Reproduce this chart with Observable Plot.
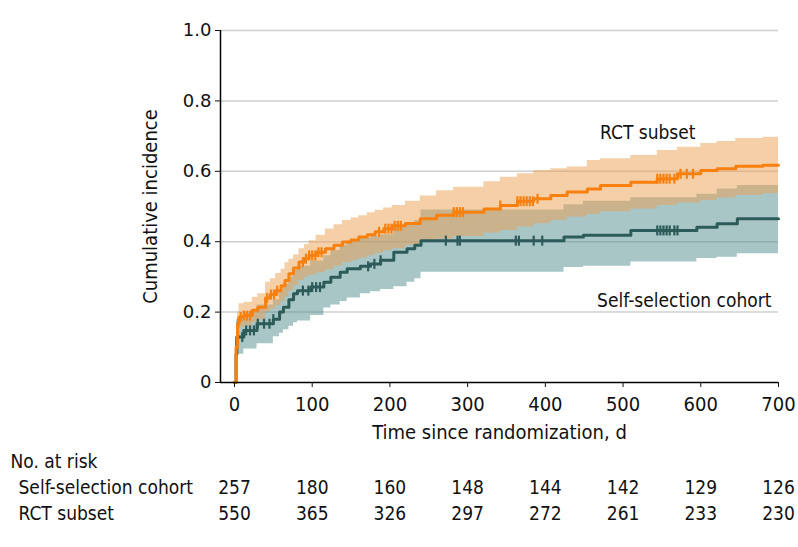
<!DOCTYPE html>
<html><head><meta charset="utf-8">
<script src="https://cdn.jsdelivr.net/npm/d3@7"></script>
<script src="https://cdn.jsdelivr.net/npm/@observablehq/plot@0.6"></script>
<style>
body{margin:0;background:#fff;}
#chart svg{display:block;}
</style></head><body><div id="chart"></div>
<script>
// ---- data ----
const rctTime  = [0, 2, 4, 6, 12, 23, 30, 40, 46, 53, 60, 65, 70, 76, 83, 90, 96, 105, 117, 128, 139, 150, 160, 171, 181, 192, 203, 220, 239, 260, 282, 321, 342, 364, 385, 407, 428, 454, 471, 510, 544, 570, 600, 621, 645, 680, 700];
const rctEst   = [0, 0.10, 0.17, 0.186, 0.19, 0.205, 0.214, 0.24, 0.25, 0.261, 0.275, 0.29, 0.309, 0.325, 0.342, 0.352, 0.361, 0.37, 0.38, 0.39, 0.399, 0.405, 0.413, 0.42, 0.428, 0.437, 0.445, 0.452, 0.465, 0.475, 0.484, 0.493, 0.503, 0.515, 0.522, 0.531, 0.541, 0.55, 0.56, 0.569, 0.579, 0.593, 0.602, 0.607, 0.614, 0.617, 0.617];
const rctLower = [0, 0.07, 0.13, 0.155, 0.16, 0.17, 0.178, 0.2, 0.208, 0.218, 0.23, 0.243, 0.26, 0.275, 0.29, 0.298, 0.305, 0.312, 0.32, 0.33, 0.34, 0.346, 0.353, 0.36, 0.367, 0.374, 0.38, 0.39, 0.4, 0.407, 0.415, 0.425, 0.432, 0.442, 0.451, 0.46, 0.47, 0.477, 0.485, 0.493, 0.503, 0.51, 0.517, 0.524, 0.531, 0.536, 0.536];
const rctUpper = [0, 0.13, 0.2, 0.224, 0.228, 0.242, 0.252, 0.285, 0.295, 0.31, 0.322, 0.34, 0.35, 0.362, 0.38, 0.392, 0.403, 0.418, 0.436, 0.448, 0.46, 0.467, 0.474, 0.482, 0.489, 0.496, 0.503, 0.515, 0.53, 0.545, 0.555, 0.57, 0.583, 0.593, 0.602, 0.607, 0.612, 0.631, 0.636, 0.645, 0.659, 0.668, 0.679, 0.685, 0.693, 0.697, 0.697];
const rctCensor = [5, 8, 12, 16, 20, 42, 47, 51, 55, 88, 92, 96, 100, 104, 108, 112, 186, 194, 198, 202, 206, 210, 214, 282, 286, 290, 294, 342, 364, 368, 372, 376, 380, 384, 390, 544, 548, 552, 556, 560, 566, 574, 582, 590];

const selfTime  = [0, 2, 3, 12, 29, 50, 58, 63, 70, 76, 81, 98, 115, 124, 136, 145, 162, 175, 188, 205, 222, 232, 240, 424, 449, 510, 595, 621, 647, 700];
const selfEst   = [0, 0.08, 0.129, 0.148, 0.167, 0.18, 0.2, 0.214, 0.235, 0.252, 0.261, 0.271, 0.285, 0.299, 0.313, 0.323, 0.33, 0.337, 0.347, 0.37, 0.38, 0.39, 0.403, 0.413, 0.418, 0.432, 0.441, 0.451, 0.465, 0.465];
const selfLower = [0, 0.05, 0.08, 0.095, 0.11, 0.13, 0.14, 0.15, 0.16, 0.17, 0.175, 0.19, 0.212, 0.22, 0.23, 0.24, 0.252, 0.258, 0.264, 0.272, 0.285, 0.295, 0.313, 0.327, 0.33, 0.342, 0.352, 0.356, 0.366, 0.366];
const selfUpper = [0, 0.12, 0.18, 0.2, 0.22, 0.235, 0.26, 0.28, 0.3, 0.318, 0.33, 0.345, 0.36, 0.375, 0.39, 0.4, 0.41, 0.415, 0.42, 0.44, 0.45, 0.46, 0.49, 0.505, 0.515, 0.525, 0.535, 0.55, 0.56, 0.56];
const selfCensor = [10, 15, 20, 25, 30, 38, 45, 50, 88, 95, 100, 105, 110, 172, 180, 188, 272, 287, 290, 362, 366, 385, 396, 544, 548, 552, 556, 560, 566, 570];

const riskTimes = [0, 100, 200, 300, 400, 500, 600, 700];
const riskSelf  = [257, 180, 160, 148, 144, 142, 129, 126];
const riskRCT   = [550, 365, 326, 297, 272, 261, 233, 230];

const xDomain = [-18, 700];
const xTicks = [0, 100, 200, 300, 400, 500, 600, 700];
const yTicks = [0, 0.2, 0.4, 0.6, 0.8, 1.0];

const xLabel = "Time since randomization, d";
const yLabel = "Cumulative incidence";
const groupNames = ["Self-selection cohort", "RCT subset"];
const riskTitle = "No. at risk";

// ---- build ----
const COND = "'DejaVu Sans Condensed','Liberation Sans Narrow',sans-serif";
const DEJ = "'DejaVu Sans',sans-serif";
const ORANGE = "#f7800f", TEAL = "#2d5b59";

const rows = (time, est, lo, hi) => time.map((t, i) => ({t, est: est[i], lo: lo[i], hi: hi[i]}));
const rct = rows(rctTime, rctEst, rctLower, rctUpper);
const self = rows(selfTime, selfEst, selfLower, selfUpper);
const stepAt = (time, est, t) => est[Math.max(0, d3.bisectRight(time, t) - 1)];
const rctMarks = rctCensor.map(t => ({t, v: stepAt(rctTime, rctEst, t)}));
const selfMarks = selfCensor.map(t => ({t, v: stepAt(selfTime, selfEst, t)}));

const vtick = {draw(ctx, size) { const r = Math.sqrt(size / Math.PI); ctx.moveTo(0, -r); ctx.lineTo(0, r); }};

const plot = Plot.plot({
  width: 798, height: 547,
  marginTop: 30, marginBottom: 165, marginLeft: 220, marginRight: 20,
  x: {domain: xDomain},
  y: {domain: [0, 1]},
  style: {fontFamily: COND, fontSize: "19px", color: "#111", background: "#fff", overflow: "visible"},
  marks: [
    Plot.gridY(yTicks.filter(d => d > 0), {stroke: "#cfcfcf", strokeOpacity: 1, strokeWidth: 1.5}),
    Plot.areaY(self, {x: "t", y1: "lo", y2: "hi", curve: "step-after", fill: "#528d8d", fillOpacity: 0.5}),
    Plot.areaY(rct, {x: "t", y1: "lo", y2: "hi", curve: "step-after", fill: "#eb9f51", fillOpacity: 0.5}),
    Plot.line(self, {x: "t", y: "est", curve: "step-after", stroke: TEAL, strokeWidth: 3}),
    Plot.line(rct, {x: "t", y: "est", curve: "step-after", stroke: ORANGE, strokeWidth: 3}),
    Plot.dot(selfMarks, {x: "t", y: "v", symbol: vtick, r: 5, stroke: TEAL, strokeWidth: 2.2, fill: "none"}),
    Plot.dot(rctMarks, {x: "t", y: "v", symbol: vtick, r: 5, stroke: ORANGE, strokeWidth: 2.2, fill: "none"}),
    Plot.ruleY([0], {stroke: "#000", strokeWidth: 1.5}),
    Plot.ruleX([xDomain[0]], {stroke: "#000", strokeWidth: 1.5}),
    Plot.axisX({ticks: xTicks, tickSize: 5, tickPadding: 9, fontSize: 20, label: null}),
    Plot.axisY({ticks: yTicks, tickSize: 5, tickPadding: 4, tickFormat: d => d === 0 ? "0" : d.toFixed(1), fontSize: 18, label: null}),
    Plot.text([xLabel], {frameAnchor: "bottom", dy: 56, fontSize: 20}),
    Plot.text([yLabel], {frameAnchor: "left", textAnchor: "middle", rotate: -90, dx: -70, fontSize: 20}),
    Plot.text([groupNames[1]], {frameAnchor: "top-right", textAnchor: "end", dx: -83, dy: 95, fontSize: 19}),
    Plot.text([groupNames[0]], {frameAnchor: "top-right", textAnchor: "end", dx: -7, dy: 263, fontSize: 19}),
    Plot.text([riskTitle], {frameAnchor: "bottom-left", textAnchor: "start", dx: -210, dy: 85, fontSize: 19}),
    Plot.text([groupNames[0]], {frameAnchor: "bottom-left", textAnchor: "start", dx: -202, dy: 111, fontSize: 19}),
    Plot.text([groupNames[1]], {frameAnchor: "bottom-left", textAnchor: "start", dx: -202, dy: 137, fontSize: 19}),
    Plot.text(riskSelf, {x: riskTimes, frameAnchor: "bottom", dy: 111, fontSize: 19}),
    Plot.text(riskRCT, {x: riskTimes, frameAnchor: "bottom", dy: 137, fontSize: 19})
  ]
});
d3.select(plot).selectAll('[aria-label="y-axis tick label"]').attr("font-family", DEJ);
document.getElementById("chart").append(plot);
</script></body></html>
